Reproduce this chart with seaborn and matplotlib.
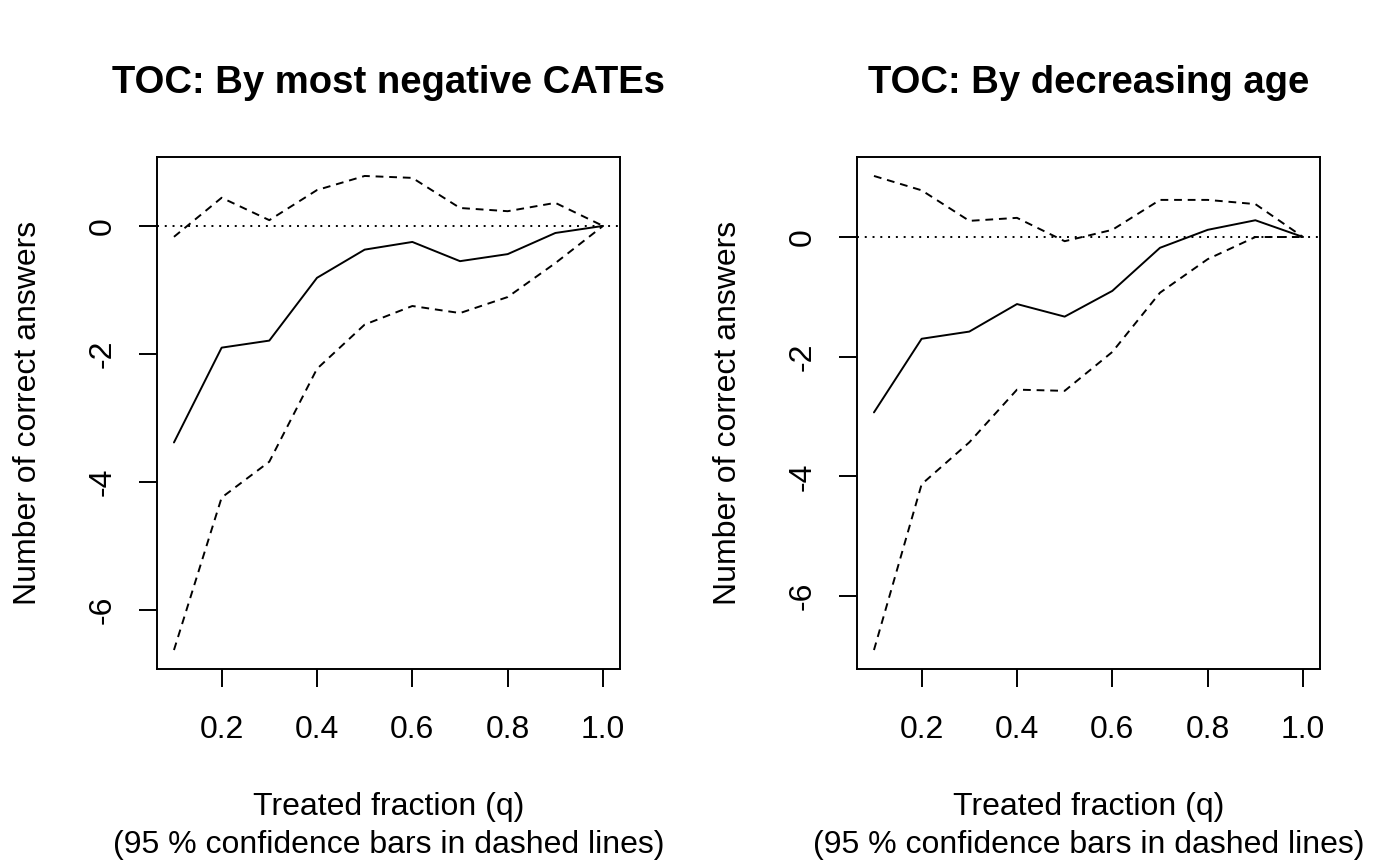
import matplotlib
matplotlib.use("Agg")
import matplotlib.pyplot as plt
import seaborn as sns
import pandas as pd

# Treated fractions
q = [0.1, 0.2, 0.3, 0.4, 0.5, 0.6, 0.7, 0.8, 0.9, 1.0]

# TOC by most negative CATEs
cate_est = [-3.38, -1.90, -1.79, -0.81, -0.37, -0.25, -0.55, -0.44, -0.11, 0.0]
cate_upper = [-0.17, 0.44, 0.09, 0.56, 0.78, 0.75, 0.28, 0.23, 0.36, 0.0]
cate_lower = [-6.62, -4.24, -3.68, -2.23, -1.54, -1.25, -1.36, -1.11, -0.58, 0.0]

# TOC by decreasing age
age_est = [-2.93, -1.70, -1.58, -1.12, -1.33, -0.90, -0.18, 0.12, 0.28, 0.0]
age_upper = [1.02, 0.78, 0.27, 0.32, -0.07, 0.12, 0.62, 0.62, 0.55, 0.0]
age_lower = [-6.90, -4.13, -3.43, -2.55, -2.57, -1.92, -0.93, -0.37, 0.0, 0.0]

titles = ["TOC: By most negative CATEs", "TOC: By decreasing age"]
xlabel = "Treated fraction (q)\n(95 % confidence bars in dashed lines)"
ylabel = "Number of correct answers"

sns.set_style("ticks")
plt.rcParams['font.family'] = ['Liberation Sans', 'DejaVu Sans']
plt.rcParams['text.color'] = 'black'
plt.rcParams['axes.labelcolor'] = 'black'
plt.rcParams['xtick.color'] = 'black'
plt.rcParams['ytick.color'] = 'black'
plt.rcParams['axes.edgecolor'] = 'black'

fig = plt.figure(figsize=(14, 8.65), dpi=100)
ax1 = fig.add_axes([0.112, 0.2266, 0.331, 0.5919])
ax2 = fig.add_axes([0.612, 0.2266, 0.331, 0.5919])

panels = [(ax1, cate_est, cate_upper, cate_lower, titles[0]),
          (ax2, age_est, age_upper, age_lower, titles[1])]

for ax, est, up, lo, title in panels:
    df = pd.DataFrame({'q': q, 'est': est, 'upper': up, 'lower': lo})
    sns.lineplot(data=df, x='q', y='est', ax=ax, color='black', linewidth=1.4)
    sns.lineplot(data=df, x='q', y='upper', ax=ax, color='black', linewidth=1.4,
                 linestyle=(0, (4, 3)))
    sns.lineplot(data=df, x='q', y='lower', ax=ax, color='black', linewidth=1.4,
                 linestyle=(0, (4, 3)))
    ax.axhline(0, color='black', linewidth=1.4, linestyle=(0, (1, 3)))

    lo_all = min(lo)
    hi_all = max(up)
    pad = 0.04 * (hi_all - lo_all)
    ax.set_ylim(lo_all - pad, hi_all + pad)
    ax.set_xlim(0.1 - 0.036, 1.0 + 0.036)
    ax.set_xticks([0.2, 0.4, 0.6, 0.8, 1.0])
    ax.set_xticklabels(['0.2', '0.4', '0.6', '0.8', '1.0'])
    ax.set_yticks([-6, -4, -2, 0])
    ax.set_yticklabels(['-6', '-4', '-2', '0'], rotation=90, va='center')
    ax.tick_params(axis='both', length=13, width=1.4, labelsize=23, pad=20,
                   colors='black')
    ax.tick_params(axis='y', pad=15)
    for s in ax.spines.values():
        s.set_linewidth(1.4)
        s.set_visible(True)
        s.set_color('black')
    ax.set_title(title, fontsize=27.5, fontweight='bold', pad=46, color='black')
    ax.set_xlabel(xlabel, fontsize=23, labelpad=34, linespacing=1.35,
                  color='black')
    ax.set_ylabel(ylabel, fontsize=23, labelpad=32, color='black')

fig.savefig('out.png', dpi=100)
